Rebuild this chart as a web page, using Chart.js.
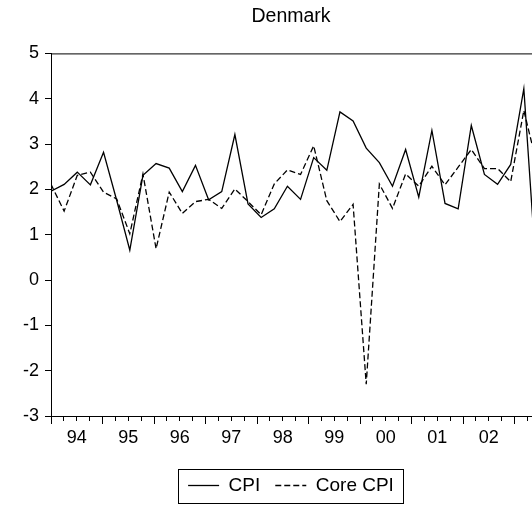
<!DOCTYPE html>
<html lang="en">
<head>
    <meta charset="UTF-8">
    <title>Denmark - CPI vs Core CPI</title>
    <script src="https://cdn.jsdelivr.net/npm/chart.js@4.4.1/dist/chart.umd.min.js"></script>
    <style>
        html, body { margin: 0; padding: 0; background: #fff; overflow: hidden; }
        .chart-box { position: relative; width: 582px; height: 505px; }
    </style>
</head>
<body>
    <div class="chart-box">
        <canvas id="myChart"></canvas>
    </div>
    <script>
    // quarterly data, 1994Q1 onwards
    var yearLabels = ["94", "95", "96", "97", "98", "99", "00", "01", "02"];
    var cpi = [1.96, 2.11, 2.38, 2.10, 2.82, 1.76, 0.66, 2.31, 2.57, 2.47,
               1.95, 2.53, 1.77, 1.95, 3.21, 1.68, 1.38, 1.57, 2.07, 1.78,
               2.70, 2.42, 3.71, 3.51, 2.91, 2.59, 2.07, 2.88, 1.83, 3.30,
               1.69, 1.57, 3.41, 2.33, 2.11, 2.55, 4.22, -0.05];
    var coreCpi = [2.11, 1.52, 2.31, 2.38, 1.94, 1.79, 1.02, 2.34, 0.69, 1.94,
                   1.47, 1.73, 1.78, 1.58, 2.01, 1.73, 1.44, 2.12, 2.43, 2.33,
                   2.96, 1.75, 1.29, 1.67, -2.30, 2.12, 1.58, 2.34, 2.07, 2.51,
                   2.10, 2.49, 2.88, 2.46, 2.46, 2.17, 3.74, 2.55];

    function toPoints(arr) {
        return arr.map(function(v, i) { return { x: i, y: v }; });
    }

    var family = "'Liberation Sans', Arial, sans-serif";
    var font = { family: family, size: 18 };

    // box round the plot area
    var frame = {
        id: 'frame',
        afterDraw: function(chart) {
            var a = chart.chartArea, ctx = chart.ctx;
            ctx.save();
            ctx.strokeStyle = '#000';
            ctx.lineWidth = 1;
            ctx.strokeRect(a.left + 0.5, a.top + 0.5, a.right - a.left, a.bottom - a.top);
            ctx.restore();
        }
    };

    // border round the legend
    var legendBorder = {
        id: 'legendBorder',
        afterDraw: function(chart) {
            var lg = chart.legend;
            if (!lg || !lg.legendHitBoxes.length) return;
            var boxes = lg.legendHitBoxes;
            var left = Math.min.apply(null, boxes.map(function(b) { return b.left; })) - 10;
            var right = Math.max.apply(null, boxes.map(function(b) { return b.left + b.width; })) + 9;
            var mid = boxes[0].top + boxes[0].height / 2;
            var ctx = chart.ctx;
            ctx.save();
            ctx.strokeStyle = '#000';
            ctx.lineWidth = 1;
            ctx.strokeRect(Math.round(left) + 0.5, Math.round(mid - 17) + 0.5, Math.round(right - left), 34);
            ctx.restore();
        }
    };

    var ctx = document.getElementById('myChart').getContext('2d');
    var chart = new Chart(ctx, {
        type: 'line',
        data: {
            datasets: [{
                    label: "CPI",
                    data: toPoints(cpi),
                    xAxisID: 'xd',
                    borderColor: '#000',
                    backgroundColor: '#000',
                    borderWidth: 1.3,
                    pointRadius: 0,
                    tension: 0,
                    fill: false
                },
                {
                    label: "Core CPI",
                    data: toPoints(coreCpi),
                    xAxisID: 'xd',
                    borderColor: '#000',
                    backgroundColor: '#000',
                    borderWidth: 1.3,
                    borderDash: [6, 3],
                    pointRadius: 0,
                    tension: 0,
                    fill: false
                }
            ]
        },
        options: {
            responsive: true,
            maintainAspectRatio: false,
            animation: false,
            layout: { padding: 0 },
            plugins: {
                title: {
                    display: true,
                    text: 'Denmark',
                    color: '#000',
                    font: { family: family, size: 19.5, weight: 'normal' },
                    padding: { top: 5, bottom: 25 }
                },
                legend: {
                    position: 'bottom',
                    labels: {
                        color: '#000',
                        font: { family: family, size: 19 },
                        usePointStyle: true,
                        pointStyle: 'line',
                        pointStyleWidth: 31,
                        padding: 15,
                        generateLabels: function(chart) {
                            var items = Chart.defaults.plugins.legend.labels.generateLabels(chart);
                            items.forEach(function(it) {
                                var ds = chart.data.datasets[it.datasetIndex];
                                it.lineDash = ds.borderDash || [];
                                it.lineWidth = 1.3;
                            });
                            return items;
                        }
                    }
                },
                tooltip: { enabled: false }
            },
            scales: {
                // data axis: one step per quarter
                xd: {
                    type: 'linear',
                    display: false,
                    min: 0,
                    max: 40.2
                },
                // year ticks and labels
                x: {
                    type: 'linear',
                    position: 'bottom',
                    min: 0,
                    max: 41.0,
                    afterFit: function(s) { s.height = 45; },
                    border: { color: '#000', width: 1 },
                    grid: {
                        drawOnChartArea: false,
                        tickLength: 8,
                        tickWidth: 1,
                        tickColor: function(c) {
                            return c.tick && c.tick.value % 4 === 0 ? '#000' : 'rgba(0,0,0,0)';
                        }
                    },
                    ticks: {
                        stepSize: 1,
                        autoSkip: false,
                        maxRotation: 0,
                        padding: 3,
                        color: '#000',
                        font: font,
                        callback: function(v) {
                            if (v % 4 !== 2) return '';
                            return yearLabels[(v - 2) / 4] || '';
                        }
                    }
                },
                // quarter ticks
                xm: {
                    type: 'linear',
                    position: { y: -3 },
                    min: 0,
                    max: 41.0,
                    border: { display: false },
                    grid: {
                        drawOnChartArea: false,
                        tickLength: 5,
                        tickWidth: 1,
                        tickColor: '#000'
                    },
                    ticks: { stepSize: 1, autoSkip: false, display: false }
                },
                y: {
                    min: -3,
                    max: 5,
                    afterFit: function(s) { s.width = 51; },
                    border: { color: '#000', width: 1 },
                    grid: {
                        drawOnChartArea: false,
                        tickLength: 6,
                        tickColor: '#000'
                    },
                    ticks: {
                        stepSize: 1,
                        padding: 6,
                        color: '#000',
                        font: font
                    }
                }
            }
        },
        plugins: [frame, legendBorder]
    });
    </script>
</body>
</html>
